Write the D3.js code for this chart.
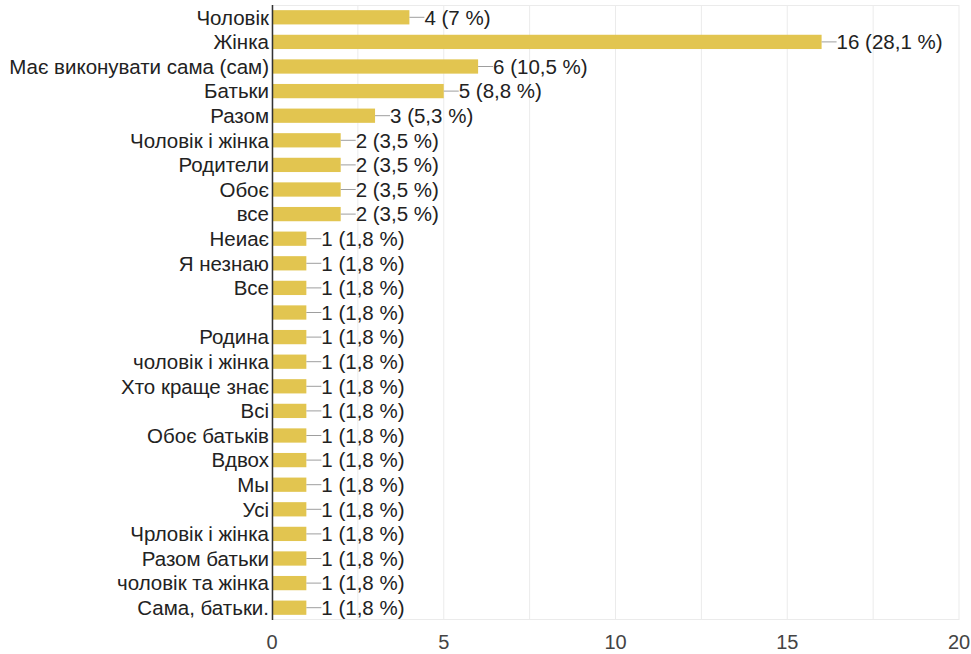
<!DOCTYPE html>
<html><head><meta charset="utf-8">
<script src="https://cdn.jsdelivr.net/npm/d3@7"></script>
<style>body{margin:0;background:#fff}svg{display:block}</style>
</head><body><svg id="c" width="971" height="654"></svg>
<script>
const categories = ["Чоловік","Жінка","Має виконувати сама (сам)","Батьки","Разом","Чоловік і жінка","Родители","Обоє","все","Неиає","Я незнаю","Все","","Родина","чоловік і жінка","Хто краще знає","Всі","Обоє батьків","Вдвох","Мы","Усі","Чрловік і жінка","Разом батьки","чоловік та жінка","Сама, батьки."];
const counts = [4,16,6,5,3,2,2,2,2,1,1,1,1,1,1,1,1,1,1,1,1,1,1,1,1];
const percents = ["7","28,1","10,5","8,8","5,3","3,5","3,5","3,5","3,5","1,8","1,8","1,8","1,8","1,8","1,8","1,8","1,8","1,8","1,8","1,8","1,8","1,8","1,8","1,8","1,8"];
const xTicks = [0,5,10,15,20];
const gridTicks = [0,2.5,5,7.5,10,12.5,15,17.5,20];

const svg = d3.select("#c");
const font = "'Liberation Sans', Arial, sans-serif";
const L = 272, R = 959, T = 5, B = 620;
const x = d3.scaleLinear().domain([0,20]).range([L,R]);
const y = d3.scaleBand().domain(d3.range(categories.length)).range([T,B]).paddingInner(0.42).paddingOuter(0.21);

svg.append("g").selectAll("line").data(gridTicks).join("line")
  .attr("x1",d=>x(d)).attr("x2",d=>x(d)).attr("y1",T).attr("y2",B)
  .attr("stroke","#ebebeb").attr("stroke-width",1);
svg.append("line").attr("x1",L).attr("x2",R).attr("y1",T+0.5).attr("y2",T+0.5).attr("stroke","#ebebeb");
svg.append("line").attr("x1",L).attr("x2",R).attr("y1",B-0.5).attr("y2",B-0.5).attr("stroke","#ebebeb");

const g = svg.append("g");
g.selectAll("rect").data(counts).join("rect")
  .attr("x",x(0)).attr("y",(d,i)=>y(i)).attr("width",d=>x(d)-x(0)).attr("height",y.bandwidth())
  .attr("fill","#e2c550");
g.selectAll("line.c").data(counts).join("line").attr("class","c")
  .attr("x1",d=>x(d)).attr("x2",d=>x(d)+15)
  .attr("y1",(d,i)=>y(i)+y.bandwidth()/2).attr("y2",(d,i)=>y(i)+y.bandwidth()/2)
  .attr("stroke","#9e9e9e").attr("stroke-width",1);
g.selectAll("text.v").data(counts).join("text").attr("class","v")
  .attr("x",d=>x(d)+15).attr("y",(d,i)=>y(i)+y.bandwidth()/2).attr("dy","0.36em")
  .attr("font-family",font).attr("font-size",20.5).attr("fill","#222")
  .text((d,i)=>`${d} (${percents[i]} %)`);
g.selectAll("text.l").data(categories).join("text").attr("class","l")
  .attr("x",L-3).attr("y",(d,i)=>y(i)+y.bandwidth()/2).attr("dy","0.36em")
  .attr("text-anchor","end")
  .attr("font-family",font).attr("font-size",20.5).attr("fill","#222")
  .text(d=>d);

svg.append("line").attr("x1",L+0.5).attr("x2",L+0.5).attr("y1",T).attr("y2",B).attr("stroke","#333").attr("stroke-width",1.5);

svg.append("g").selectAll("text").data(xTicks).join("text")
  .attr("x",d=>x(d)).attr("y",642).attr("dy","0.36em").attr("text-anchor","middle")
  .attr("font-family",font).attr("font-size",20).attr("fill","#444")
  .text(d=>d);
</script></body></html>
